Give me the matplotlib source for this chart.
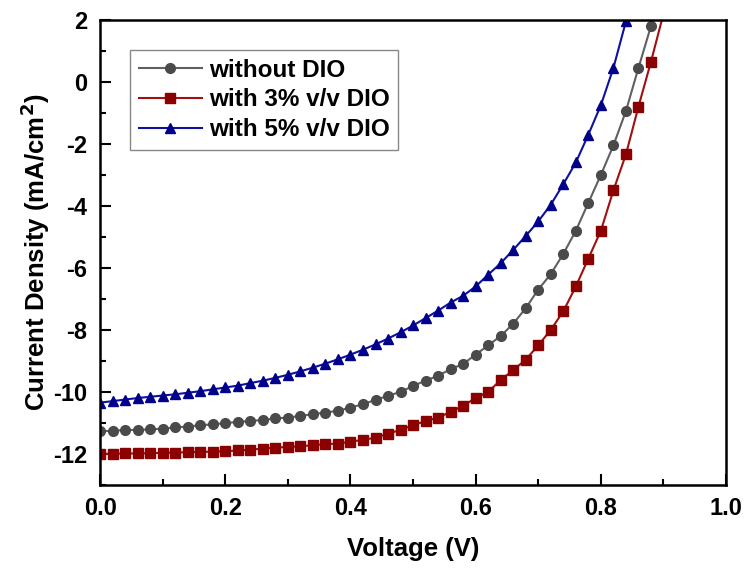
import numpy as np
import matplotlib
matplotlib.use('Agg')
import matplotlib.pyplot as plt
from matplotlib.ticker import MultipleLocator, FormatStrFormatter

plt.rcParams['font.family'] = ['Liberation Sans', 'DejaVu Sans']
plt.rcParams['font.weight'] = 'bold'
plt.rcParams['axes.unicode_minus'] = False

# J-V data, voltage sweep in 0.02 V steps
voltage = np.round(np.arange(0, 0.92, 0.02), 2)

j_without = [-11.27, -11.26, -11.23, -11.23, -11.21, -11.19, -11.15, -11.12, -11.08, -11.05,
             -11.01, -10.97, -10.94, -10.91, -10.86, -10.83, -10.78, -10.72, -10.67, -10.61,
             -10.51, -10.40, -10.26, -10.13, -10.00, -9.81, -9.64, -9.48, -9.27, -9.10,
             -8.80, -8.50, -8.20, -7.80, -7.30, -6.70, -6.20, -5.55, -4.80, -3.90,
             -3.00, -2.05, -0.94, 0.45, 1.80, 3.30]

j_3pct = [-12.00, -12.00, -11.99, -11.99, -11.98, -11.97, -11.96, -11.95, -11.94, -11.93,
          -11.92, -11.89, -11.87, -11.83, -11.80, -11.78, -11.76, -11.72, -11.69, -11.67,
          -11.61, -11.55, -11.48, -11.35, -11.23, -11.08, -10.94, -10.83, -10.65, -10.45,
          -10.20, -10.00, -9.62, -9.30, -8.96, -8.50, -8.00, -7.40, -6.60, -5.70,
          -4.80, -3.50, -2.34, -0.80, 0.65, 2.20]

j_5pct = [-10.35, -10.30, -10.25, -10.20, -10.16, -10.12, -10.08, -10.03, -9.98, -9.92,
          -9.86, -9.80, -9.72, -9.64, -9.55, -9.45, -9.34, -9.22, -9.09, -8.95,
          -8.80, -8.64, -8.47, -8.28, -8.08, -7.86, -7.62, -7.38, -7.12, -6.90,
          -6.60, -6.22, -5.85, -5.42, -4.97, -4.50, -3.96, -3.30, -2.60, -1.70,
          -0.75, 0.45, 1.95, 3.60]

labels = ['without DIO', 'with 3% v/v DIO', 'with 5% v/v DIO']

fig = plt.figure(figsize=(7.47, 5.69), dpi=100)
ax = fig.add_axes([0.134, 0.148, 0.838, 0.817])

ax.plot(voltage, j_without, '-o', color='#606060', mfc='#4a4a4a', mec='#4a4a4a',
        ms=7, lw=1.5, label=labels[0])
ax.plot(voltage, j_3pct, '-s', color='#a01010', mfc='#8b0000', mec='#8b0000',
        ms=6.5, lw=1.5, label=labels[1])
ax.plot(voltage[:len(j_5pct)], j_5pct, '-^', color='#1010a0', mfc='#00008b', mec='#00008b',
        ms=7.5, lw=1.5, label=labels[2])

ax.set_xlim(0, 1.0)
ax.set_ylim(-13, 2)
ax.xaxis.set_major_locator(MultipleLocator(0.2))
ax.xaxis.set_minor_locator(MultipleLocator(0.1))
ax.yaxis.set_major_locator(MultipleLocator(2))
ax.yaxis.set_minor_locator(MultipleLocator(1))
ax.xaxis.set_major_formatter(FormatStrFormatter('%.1f'))

ax.tick_params(which='both', direction='in', labelsize=17, width=1.5)
ax.tick_params(which='major', length=8, pad=9)
ax.tick_params(which='minor', length=4.5)
for s in ax.spines.values():
    s.set_linewidth(1.8)

ax.set_xlabel('Voltage (V)', fontsize=18.5, fontweight='bold', labelpad=12)
ax.set_ylabel('Current Density (mA/cm$^\\mathbf{2}$)', fontsize=18.5, fontweight='bold', labelpad=1)

leg = ax.legend(loc='upper left', bbox_to_anchor=(0.048, 0.935), borderaxespad=0,
                fontsize=17.5, fancybox=False, framealpha=1, edgecolor='#888888',
                handlelength=2.6, handletextpad=0.3, borderpad=0.35, labelspacing=0.28)
leg.get_frame().set_linewidth(1.0)

plt.savefig('out.png', dpi=100)
